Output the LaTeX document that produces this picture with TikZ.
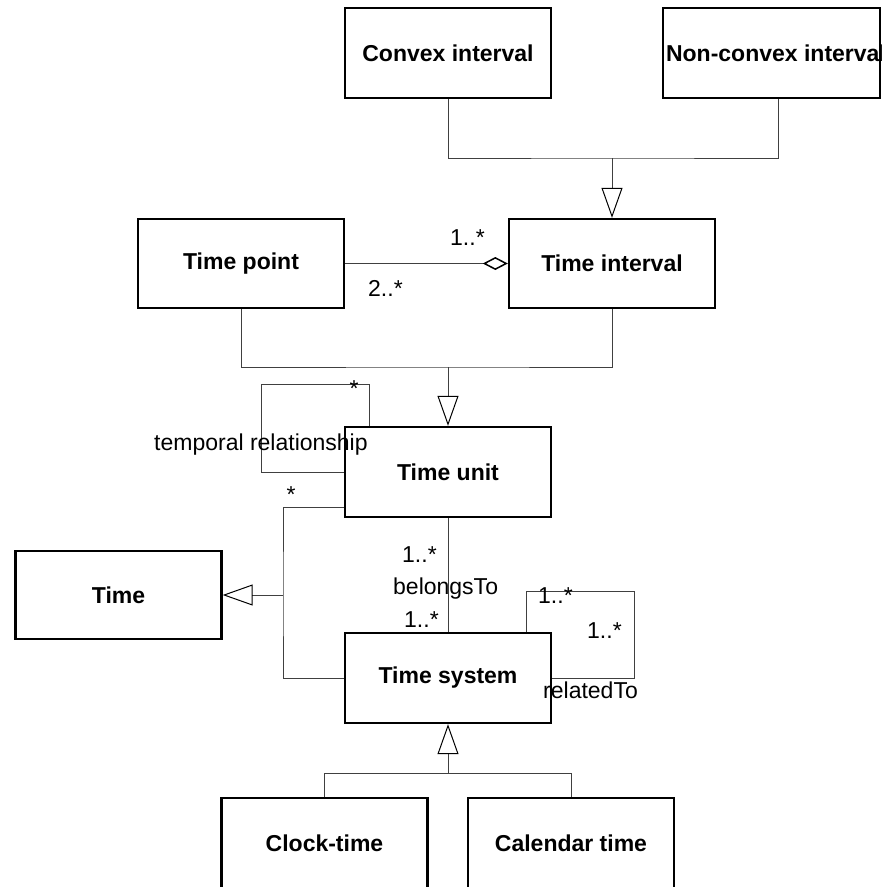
\documentclass[tikz,border=0pt]{standalone}
\usepackage{fontspec}
\setmainfont{Liberation Sans}
\usetikzlibrary{arrows.meta,calc}
\tikzset{
  box/.style={draw=black, line width=2.4pt, minimum width=206pt, minimum height=90pt,
    inner sep=0pt, font=\fontsize{23}{27}\selectfont\bfseries, anchor=center},
  lbl/.style={inner sep=0pt, anchor=base west, font=\fontsize{23}{27}\selectfont},
  conn/.style={draw=black!75, line width=1pt},
  gen/.style={conn, -{Triangle[open, length=30pt, width=21pt, line width=1pt, color=black]}},
  agg/.style={conn, {Diamond[open, length=25pt, width=13pt, line width=1.5pt, color=black]}-}
}
\begin{document}
\begin{tikzpicture}[x=1pt, y=-1pt]
\path[use as bounding box] (0,0) rectangle (882,887);
\clip (0,0) rectangle (882,887);

% boxes
\node[box] (cvx) at (448,53) {Convex interval};
\node[box, minimum width=217pt] (ncv) at (771.5,53) {};
\node[inner sep=0pt, font=\fontsize{23}{27}\selectfont\bfseries] (ncvt) at (776,53) {Non-convex interval};
\node[box, minimum height=89pt] (tp) at (241,263.5) {Time point};
\node[box, minimum height=89pt] (ti) at (612,263.5) {Time interval};
\node[box] (tu) at (448,472) {Time unit};
\node[box, minimum height=88pt] (tm) at (118.5,595) {Time};
\node[box] (ts) at (448,678) {Time system};
\node[box] (ck) at (324.5,843) {Clock-time};
\node[box] (cal) at (571,843) {Calendar time};

% junction points
\coordinate (j1) at (612,158);
\coordinate (j2) at (448,367);
\coordinate (j3) at (283,595);
\coordinate (j4) at (448,773);

% convex / non-convex -> time interval
\draw[conn] (cvx.south) |- (j1) -| ($(ncv.south)+(6.5,0)$);
\draw[gen] (j1) -- (ti.north);

% aggregation
\draw[agg] (ti.west) -- (tp.east);

% time point / interval -> time unit
\draw[conn] (tp.south) |- (j2) -| (ti.south);
\draw[gen] (j2) -- (tu.north);

% temporal relationship self loop
\draw[conn] ($(tu.north west)+(26,0)$) -- ++(0,-41) -- ++(-108,0) |- (tu.west);

% generalization to Time
\draw[conn] ($(tu.south west)+(0,-11)$) -| (j3) |- (ts.west);
\draw[gen] (j3) -- (tm.east);

% belongsTo
\draw[conn] (tu.south) -- (ts.north);

% relatedTo self loop
\draw[conn] ($(ts.north east)+(-26,0)$) -- ++(0,-40) -- ++(108,0) |- (ts.east);

% clock / calendar -> time system
\draw[conn] (ck.north) |- (j4) -| (cal.north);
\draw[gen] (j4) -- (ts.south);

% labels
\node[lbl] (m1) at (450,245) {1..*};
\node[lbl] (m2) at (368,296) {2..*};
\node[lbl] (m3) at (349.5,396.5) {*};
\node[lbl] (tr) at (154,450) {temporal relationship};
\node[lbl] (m4) at (286.5,502) {*};
\node[lbl] (m5) at (402,562) {1..*};
\node[lbl] (bt) at (393,594) {belongsTo};
\node[lbl] (m6) at (404,627) {1..*};
\node[lbl] (m7) at (538,603) {1..*};
\node[lbl] (m8) at (587,638) {1..*};
\node[lbl] (rt) at (543,698) {relatedTo};
\end{tikzpicture}
\end{document}
